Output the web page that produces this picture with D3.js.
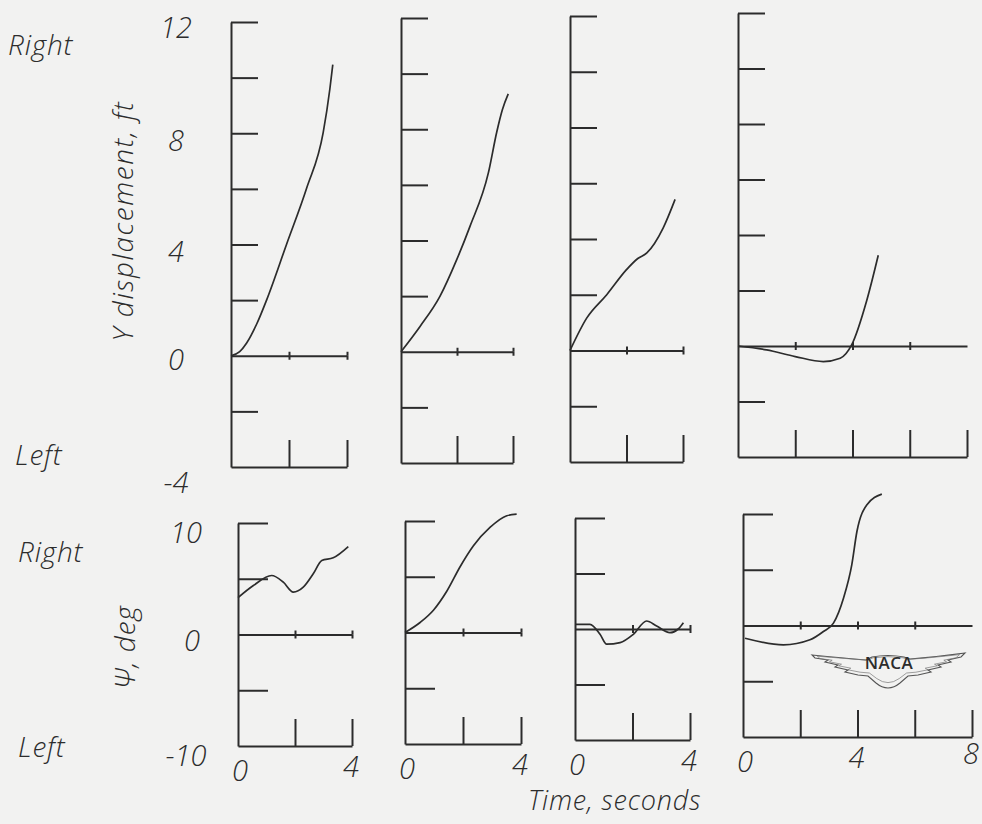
<!DOCTYPE html>
<html>
<head>
<meta charset="utf-8">
<script src="https://cdn.jsdelivr.net/npm/d3@7"></script>
<style>
  html, body { margin: 0; padding: 0; background: #f2f2f1; }
  svg { display: block; }
  text { font-family: "Open Sans", "DejaVu Sans", sans-serif; font-style: italic; font-weight: 300; fill: #2c2c2c; }
  .axis path, .axis line { stroke: #2c2c2c; stroke-width: 2; }
</style>
</head>
<body>
<svg id="chart" width="982" height="824"></svg>
<script>
// ---------------- data ----------------
const timeTicksShort = [0, 2, 4];
const timeTicksLong = [0, 2, 4, 6, 8];
const timeLabelsShort = [0, 4];
const timeLabelsLong = [0, 4, 8];

const dispTicks = [-2, 2, 4, 6, 8, 10, 12];
const dispLabels = [12, 8, 4, 0, -4];
const psiTicks = [-5, 5, 10];
const psiLabels = [10, 0, -10];

// Y displacement, ft  (time s, value)
const disp1 = [[0,0],[0.3,0.15],[0.54,0.46],[0.89,1.15],[1.23,2.01],[1.92,4.02],[2.61,6.03],[3.18,8.03],[3.41,9.6],[3.51,10.47]];
const disp2 = [[0,0],[0.68,0.91],[1.39,1.99],[1.99,3.31],[2.46,4.5],[3.12,6.43],[3.42,7.9],[3.62,8.7],[3.83,9.27]];
const disp3 = [[0,0],[0.59,1.16],[1.3,2.0],[2.0,2.9],[2.4,3.3],[2.72,3.5],[3.3,4.4],[3.72,5.42]];
const disp4 = [[0,0],[1.0,-0.14],[2.0,-0.38],[2.98,-0.56],[3.57,-0.44],[3.97,0.04],[4.5,1.65],[4.9,3.27]];

// Psi, deg  (time s, value)
const psi1 = [[0,3.3],[0.54,4.39],[1.18,5.29],[1.59,4.69],[1.94,3.8],[2.29,4.24],[2.64,5.44],[2.94,6.64],[3.34,6.88],[3.87,7.89]];
const psi2 = [[0,0],[0.52,0.9],[0.98,2.0],[1.44,3.7],[1.9,5.9],[2.36,7.78],[2.93,9.42],[3.51,10.47],[3.85,10.61]];
const psi3 = [[0,0.42],[0.52,0.42],[0.87,-0.48],[1.1,-1.37],[1.57,-1.23],[2.03,-0.48],[2.49,0.72],[2.84,0.27],[3.3,-0.33],[3.59,0],[3.77,0.57]];
const psi4 = [[0.07,-1.14],[1.41,-1.73],[2.34,-1.28],[2.81,-0.54],[3.16,0.21],[3.51,2.45],[3.8,5.44],[3.98,8.43],[4.33,10.83],[4.85,11.78]];

// ---------------- layout ----------------
const topPanels = [
  { x0: 231, x1: 347, yTop: 22, yBot: 467, tmax: 4, series: disp1 },
  { x0: 401, x1: 513, yTop: 18, yBot: 463, tmax: 4, series: disp2 },
  { x0: 570, x1: 683, yTop: 16, yBot: 462, tmax: 4, series: disp3 },
  { x0: 738, x1: 967, yTop: 13, yBot: 457, tmax: 8, series: disp4 }
];
const botPanels = [
  { x0: 238, x1: 352, yTop: 523, yBot: 746, tmax: 4, series: psi1 },
  { x0: 405, x1: 521, yTop: 521, yBot: 744, tmax: 4, series: psi2 },
  { x0: 575, x1: 690, yTop: 518, yBot: 740, tmax: 4, series: psi3 },
  { x0: 743, x1: 972, yTop: 514, yBot: 737, tmax: 8, series: psi4 }
];

const svg = d3.select("#chart");
const ink = "#2c2c2c";

function drawPanel(p, ydom, ticks, tickLen) {
  const x = d3.scaleLinear().domain([0, p.tmax]).range([p.x0, p.x1]);
  const y = d3.scaleLinear().domain(ydom).range([p.yBot, p.yTop]);
  const g = svg.append("g");
  const tt = p.tmax === 8 ? timeTicksLong : timeTicksShort;

  g.append("g").attr("class", "axis")
    .attr("transform", `translate(${p.x0},0)`)
    .call(d3.axisRight(y).tickValues(ticks).tickSize(tickLen).tickSizeOuter(0).tickFormat(""));

  g.append("g").attr("class", "axis")
    .attr("transform", `translate(0,${p.yBot})`)
    .call(d3.axisTop(x).tickValues(tt.filter(t => t > 0)).tickSize(27).tickSizeOuter(0).tickFormat(""));

  const cross = tt.filter(t => t > 0 && (p.tmax === 4 || t < p.tmax));
  g.append("g").attr("class", "axis")
    .attr("transform", `translate(0,${y(0)})`)
    .call(d3.axisTop(x).tickValues(cross).tickSize(4).tickSizeOuter(0).tickFormat(""));
  g.append("g").attr("class", "axis")
    .attr("transform", `translate(0,${y(0)})`)
    .call(d3.axisBottom(x).tickValues(cross).tickSize(4).tickSizeOuter(0).tickFormat(""))
    .select(".domain").remove();

  const line = d3.line().x(d => x(d[0])).y(d => y(d[1])).curve(d3.curveMonotoneX);
  g.append("path").datum(p.series)
    .attr("d", line)
    .attr("fill", "none").attr("stroke", ink).attr("stroke-width", 1.7);

  return { x, y };
}

const topScales = topPanels.map(p => drawPanel(p, [-4, 12], dispTicks, 27));
const botScales = botPanels.map(p => drawPanel(p, [-10, 10], psiTicks, 30));

// ---------------- text ----------------
const numSize = 29;
const y1 = topScales[0].y;
const topDy = { "12": 4, "8": 6, "4": 6, "0": 3, "-4": 14 };
svg.selectAll(".tl").data(dispLabels).enter().append("text")
  .attr("x", 176).attr("y", d => y1(d) + topDy[d])
  .attr("text-anchor", "middle").attr("dominant-baseline", "central")
  .attr("font-size", numSize).text(d => d < 0 ? "-" + Math.abs(d) : d);

const yb = botScales[0].y;
const botDx = { "10": 186, "0": 192, "-10": 186 };
const botDy = { "10": 8, "0": 5, "-10": 8 };
svg.selectAll(".bl").data(psiLabels).enter().append("text")
  .attr("x", d => botDx[d]).attr("y", d => yb(d) + botDy[d])
  .attr("text-anchor", "middle").attr("dominant-baseline", "central")
  .attr("font-size", numSize).text(d => d < 0 ? "-" + Math.abs(d) : d);

botPanels.forEach((p, i) => {
  const labs = p.tmax === 8 ? timeLabelsLong : timeLabelsShort;
  const x = botScales[i].x;
  svg.selectAll(null).data(labs).enter().append("text")
    .attr("x", d => x(d) + (d === 0 ? 2 : -1))
    .attr("y", d => p.yBot + 23 - d * 0.9)
    .attr("text-anchor", "middle").attr("dominant-baseline", "central")
    .attr("font-size", numSize).text(d => d);
});

const sideLabels = [
  { t: "Right", x: 8, y: 55 }, { t: "Left", x: 15, y: 465 },
  { t: "Right", x: 18, y: 562 }, { t: "Left", x: 18, y: 757 }
];
svg.selectAll(".side").data(sideLabels).enter().append("text")
  .attr("x", d => d.x).attr("y", d => d.y)
  .attr("font-size", 28).attr("letter-spacing", 0.8).text(d => d.t);

svg.append("text").attr("transform", "translate(133,221) rotate(-90)")
  .attr("text-anchor", "middle").attr("font-size", 28).attr("letter-spacing", 1.6)
  .text("Y displacement, ft");
svg.append("text").attr("transform", "translate(135,647) rotate(-90)")
  .attr("text-anchor", "middle").attr("font-size", 28).attr("letter-spacing", 1)
  .text("Ψ, deg");
svg.append("text").attr("x", 528).attr("y", 810)
  .attr("font-size", 27).attr("letter-spacing", 0.8)
  .text("Time, seconds");

// NACA wings emblem
const logo = svg.append("g").attr("transform", "translate(888,661)");
const wing = "M -76,-6 Q -45,-3 -22,-1 L -16,-4 Q 0,-7 16,-4 L 22,-2 Q 47,-4 77,-8 " +
  "L 73,-4 L 60,-1 L 63,1 L 50,4 L 53,6 L 40,9 L 43,11 L 30,14 L 20,15 L 12,22 Q 0,32 -12,22 " +
  "L -20,15 L -30,14 L -43,11 L -40,9 L -53,6 L -50,4 L -63,1 L -60,-1 L -73,-3 Z";
logo.append("path").attr("d", wing).attr("fill", "none").attr("stroke", "#555").attr("stroke-width", 1.1);
logo.append("path").attr("d", wing).attr("transform", "scale(0.93,0.8)")
  .attr("fill", "none").attr("stroke", "#777").attr("stroke-width", 0.8);
logo.append("text").attr("x", 1).attr("y", 8).attr("text-anchor", "middle")
  .attr("font-size", 17).style("font-style", "normal").style("font-weight", 600)
  .attr("letter-spacing", 0.5).attr("fill", "#333").text("NACA");
</script>
</body>
</html>
